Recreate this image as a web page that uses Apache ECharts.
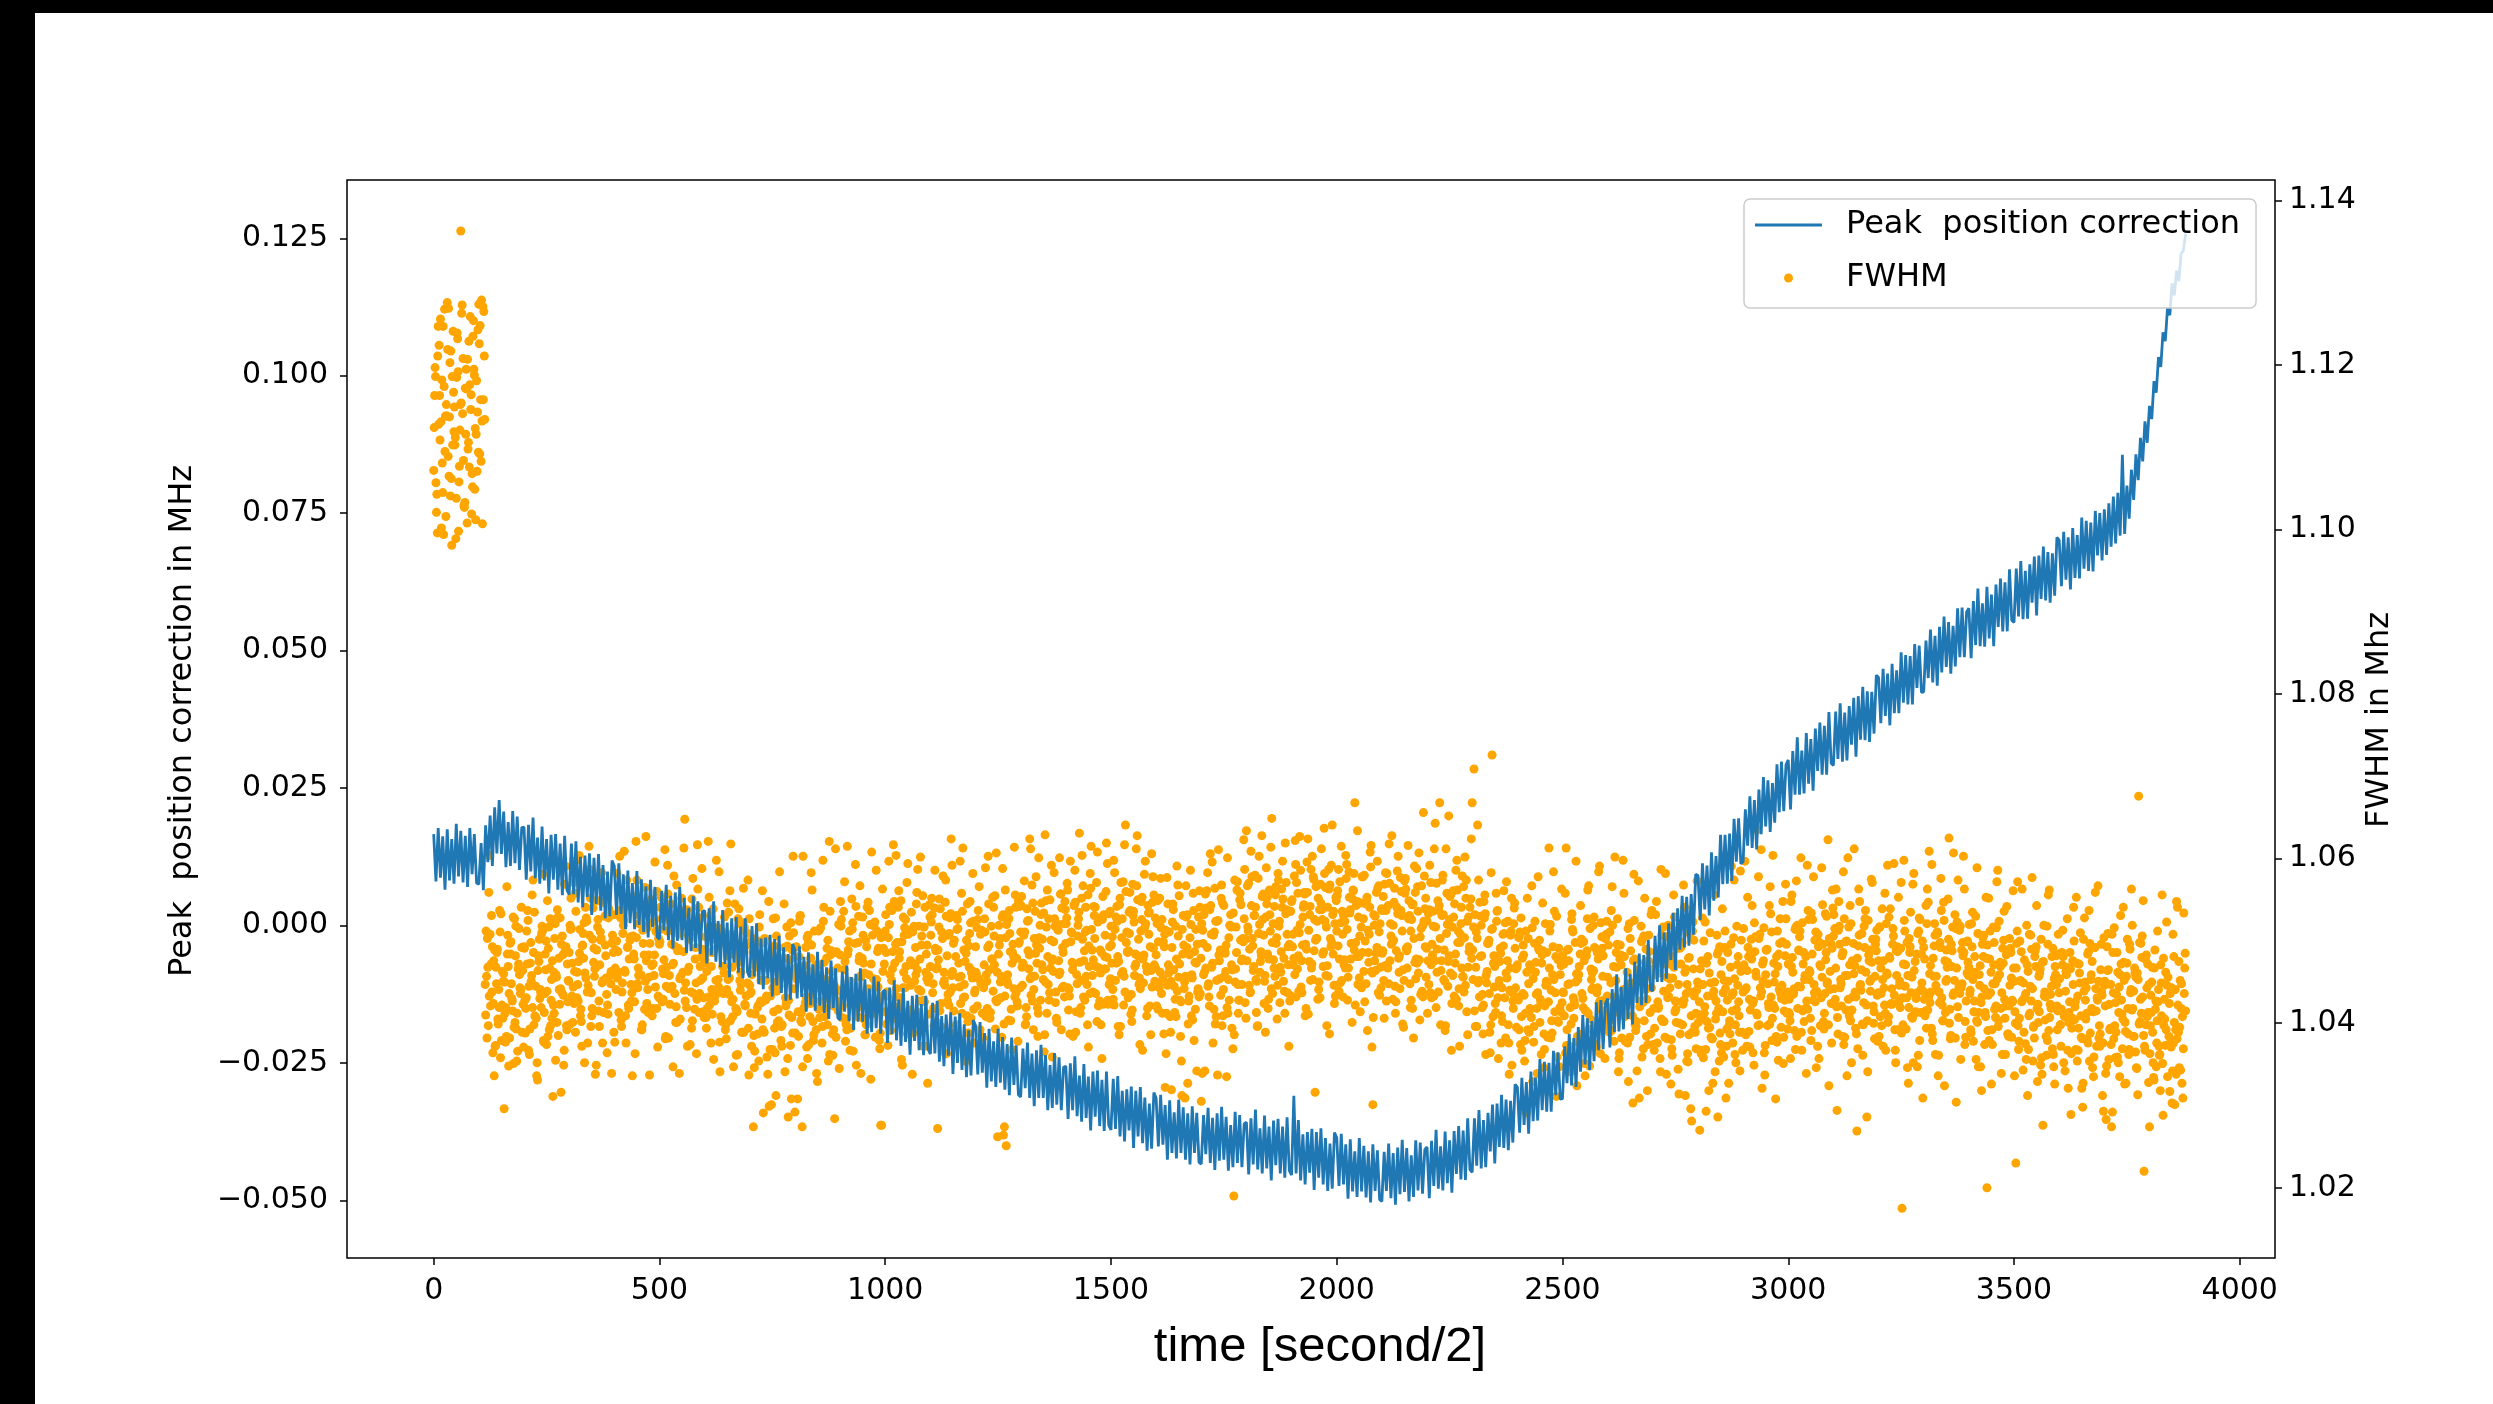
<!DOCTYPE html>
<html>
<head>
<meta charset="utf-8">
<script src="https://cdn.jsdelivr.net/npm/echarts@6/dist/echarts.min.js"></script>
<style>
  html, body { margin: 0; padding: 0; background: #ffffff; }
  #chart { width: 2493px; height: 1404px; }
</style>
</head>
<body>
<div id="chart"></div>
<script>
// Peak position correction (MHz), one value every 5 time steps starting at t = 0
const PEAK_T0 = 0;
const PEAK_DT = 5;
const peakCorrection = [
  0.0166, 0.0080, 0.0177, 0.0087, 0.0162, 0.0065, 0.0175, 0.0082, 0.0157, 0.0076, 0.0185, 0.0089, 0.0172, 0.0078, 0.0163, 0.0070, 0.0177, 0.0093, 0.0166, 0.0077,
  0.0075, 0.0150, 0.0064, 0.0182, 0.0115, 0.0200, 0.0108, 0.0215, 0.0131, 0.0228, 0.0130, 0.0207, 0.0106, 0.0188, 0.0108, 0.0208, 0.0113, 0.0198, 0.0101, 0.0178,
  0.0179, 0.0083, 0.0183, 0.0098, 0.0196, 0.0086, 0.0160, 0.0076, 0.0180, 0.0082, 0.0157, 0.0058, 0.0165, 0.0083, 0.0166, 0.0065, 0.0149, 0.0055, 0.0163, 0.0065,
  0.0056, 0.0149, 0.0057, 0.0153, 0.0042, 0.0125, 0.0033, 0.0127, 0.0052, 0.0131, 0.0019, 0.0123, 0.0039, 0.0130, 0.0027, 0.0110, 0.0013, 0.0098, 0.0017, 0.0118,
  0.0108, 0.0019, 0.0113, 0.0021, 0.0093, -0.0007, 0.0100, 0.0004, 0.0077, -0.0007, 0.0099, 0.0001, 0.0084, -0.0012, 0.0071, -0.0022, 0.0083, -0.0003, 0.0070, -0.0021,
  -0.0025, 0.0063, -0.0009, 0.0074, -0.0027, 0.0054, -0.0042, 0.0060, -0.0028, 0.0070, -0.0027, 0.0050, -0.0050, 0.0032, -0.0047, 0.0053, -0.0041, 0.0044, -0.0052, 0.0025,
  0.0027, -0.0069, 0.0031, -0.0054, 0.0044, -0.0066, 0.0008, -0.0076, 0.0028, -0.0070, 0.0005, -0.0094, 0.0013, -0.0068, 0.0015, -0.0086, -0.0002, -0.0096, 0.0013, -0.0085,
  -0.0094, -0.0001, -0.0093, 0.0004, -0.0107, -0.0024, -0.0116, -0.0022, -0.0096, -0.0017, -0.0129, -0.0025, -0.0109, -0.0019, -0.0123, -0.0040, -0.0137, -0.0052, -0.0135, -0.0034,
  -0.0044, -0.0133, -0.0038, -0.0130, -0.0057, -0.0157, -0.0049, -0.0145, -0.0071, -0.0155, -0.0048, -0.0146, -0.0063, -0.0159, -0.0076, -0.0170, -0.0064, -0.0150, -0.0078, -0.0168,
  -0.0172, -0.0084, -0.0157, -0.0073, -0.0174, -0.0094, -0.0190, -0.0088, -0.0175, -0.0078, -0.0175, -0.0098, -0.0197, -0.0115, -0.0194, -0.0093, -0.0187, -0.0102, -0.0197, -0.0120,
  -0.0118, -0.0214, -0.0113, -0.0198, -0.0100, -0.0209, -0.0135, -0.0219, -0.0114, -0.0212, -0.0137, -0.0235, -0.0128, -0.0210, -0.0126, -0.0227, -0.0143, -0.0236, -0.0128, -0.0225,
  -0.0234, -0.0141, -0.0233, -0.0137, -0.0248, -0.0165, -0.0256, -0.0162, -0.0237, -0.0158, -0.0270, -0.0166, -0.0250, -0.0160, -0.0263, -0.0180, -0.0276, -0.0191, -0.0273, -0.0172,
  -0.0182, -0.0271, -0.0176, -0.0268, -0.0196, -0.0295, -0.0188, -0.0284, -0.0211, -0.0294, -0.0188, -0.0286, -0.0203, -0.0299, -0.0216, -0.0309, -0.0204, -0.0290, -0.0218, -0.0308,
  -0.0312, -0.0224, -0.0296, -0.0213, -0.0314, -0.0233, -0.0329, -0.0227, -0.0314, -0.0217, -0.0314, -0.0236, -0.0336, -0.0254, -0.0332, -0.0232, -0.0326, -0.0240, -0.0336, -0.0258,
  -0.0256, -0.0352, -0.0251, -0.0336, -0.0238, -0.0347, -0.0273, -0.0357, -0.0252, -0.0350, -0.0275, -0.0373, -0.0266, -0.0348, -0.0264, -0.0365, -0.0281, -0.0374, -0.0266, -0.0363,
  -0.0372, -0.0279, -0.0370, -0.0274, -0.0384, -0.0301, -0.0393, -0.0298, -0.0373, -0.0293, -0.0405, -0.0301, -0.0384, -0.0294, -0.0396, -0.0313, -0.0410, -0.0324, -0.0406, -0.0304,
  -0.0314, -0.0402, -0.0308, -0.0399, -0.0327, -0.0426, -0.0318, -0.0414, -0.0340, -0.0424, -0.0317, -0.0414, -0.0331, -0.0426, -0.0342, -0.0435, -0.0329, -0.0414, -0.0341, -0.0431,
  -0.0434, -0.0345, -0.0416, -0.0332, -0.0432, -0.0350, -0.0445, -0.0342, -0.0428, -0.0330, -0.0426, -0.0348, -0.0446, -0.0363, -0.0440, -0.0339, -0.0432, -0.0345, -0.0440, -0.0361,
  -0.0358, -0.0453, -0.0351, -0.0435, -0.0335, -0.0444, -0.0369, -0.0451, -0.0346, -0.0442, -0.0366, -0.0464, -0.0355, -0.0436, -0.0352, -0.0451, -0.0366, -0.0459, -0.0349, -0.0446,
  -0.0454, -0.0310, -0.0451, -0.0354, -0.0464, -0.0380, -0.0471, -0.0376, -0.0450, -0.0370, -0.0481, -0.0376, -0.0459, -0.0369, -0.0471, -0.0387, -0.0483, -0.0397, -0.0479, -0.0377,
  -0.0386, -0.0474, -0.0379, -0.0471, -0.0398, -0.0497, -0.0389, -0.0484, -0.0411, -0.0494, -0.0387, -0.0484, -0.0401, -0.0495, -0.0411, -0.0504, -0.0398, -0.0483, -0.0409, -0.0499,
  -0.0502, -0.0412, -0.0483, -0.0397, -0.0496, -0.0414, -0.0508, -0.0404, -0.0489, -0.0390, -0.0485, -0.0405, -0.0502, -0.0418, -0.0494, -0.0391, -0.0482, -0.0395, -0.0488, -0.0408,
  -0.0403, -0.0496, -0.0392, -0.0474, -0.0372, -0.0479, -0.0402, -0.0482, -0.0375, -0.0469, -0.0391, -0.0486, -0.0374, -0.0452, -0.0365, -0.0462, -0.0373, -0.0463, -0.0351, -0.0444,
  -0.0449, -0.0351, -0.0437, -0.0336, -0.0442, -0.0354, -0.0440, -0.0341, -0.0411, -0.0326, -0.0433, -0.0324, -0.0403, -0.0308, -0.0405, -0.0317, -0.0409, -0.0319, -0.0395, -0.0289,
  -0.0294, -0.0377, -0.0277, -0.0363, -0.0285, -0.0379, -0.0266, -0.0356, -0.0277, -0.0355, -0.0243, -0.0336, -0.0248, -0.0339, -0.0250, -0.0339, -0.0228, -0.0309, -0.0231, -0.0316,
  -0.0315, -0.0220, -0.0287, -0.0197, -0.0291, -0.0205, -0.0294, -0.0185, -0.0266, -0.0163, -0.0253, -0.0169, -0.0263, -0.0174, -0.0247, -0.0140, -0.0227, -0.0136, -0.0225, -0.0142,
  -0.0133, -0.0222, -0.0116, -0.0194, -0.0089, -0.0193, -0.0112, -0.0189, -0.0078, -0.0170, -0.0088, -0.0180, -0.0066, -0.0141, -0.0051, -0.0145, -0.0054, -0.0141, -0.0026, -0.0117,
  -0.0119, -0.0019, -0.0103, 0.0000, -0.0103, -0.0013, -0.0097, 0.0004, -0.0063, 0.0023, -0.0081, 0.0031, -0.0044, 0.0054, -0.0040, 0.0052, -0.0037, 0.0057, -0.0017, 0.0093,
  0.0091, 0.0010, 0.0113, 0.0029, 0.0109, 0.0018, 0.0133, 0.0045, 0.0126, 0.0051, 0.0165, 0.0075, 0.0165, 0.0076, 0.0167, 0.0081, 0.0194, 0.0116, 0.0195, 0.0112,
  0.0116, 0.0211, 0.0145, 0.0235, 0.0141, 0.0228, 0.0138, 0.0247, 0.0166, 0.0270, 0.0180, 0.0264, 0.0170, 0.0259, 0.0187, 0.0293, 0.0206, 0.0298, 0.0208, 0.0292,
  0.0301, 0.0211, 0.0317, 0.0238, 0.0342, 0.0238, 0.0318, 0.0240, 0.0350, 0.0258, 0.0339, 0.0245, 0.0358, 0.0281, 0.0369, 0.0274, 0.0363, 0.0274, 0.0388, 0.0295,
  0.0291, 0.0389, 0.0303, 0.0404, 0.0298, 0.0387, 0.0300, 0.0399, 0.0329, 0.0414, 0.0307, 0.0417, 0.0338, 0.0434, 0.0337, 0.0426, 0.0334, 0.0425, 0.0349, 0.0455,
  0.0451, 0.0368, 0.0467, 0.0381, 0.0458, 0.0364, 0.0476, 0.0386, 0.0464, 0.0386, 0.0497, 0.0405, 0.0492, 0.0402, 0.0490, 0.0402, 0.0512, 0.0432, 0.0509, 0.0424,
  0.0425, 0.0518, 0.0450, 0.0538, 0.0442, 0.0527, 0.0436, 0.0543, 0.0460, 0.0562, 0.0470, 0.0552, 0.0458, 0.0545, 0.0471, 0.0577, 0.0488, 0.0578, 0.0488, 0.0570,
  0.0577, 0.0486, 0.0590, 0.0510, 0.0613, 0.0508, 0.0586, 0.0507, 0.0616, 0.0522, 0.0602, 0.0508, 0.0620, 0.0543, 0.0631, 0.0535, 0.0624, 0.0535, 0.0648, 0.0555,
  0.0551, 0.0649, 0.0562, 0.0663, 0.0557, 0.0645, 0.0558, 0.0657, 0.0587, 0.0671, 0.0564, 0.0673, 0.0594, 0.0689, 0.0591, 0.0679, 0.0587, 0.0677, 0.0600, 0.0706,
  0.0701, 0.0617, 0.0716, 0.0629, 0.0706, 0.0611, 0.0723, 0.0632, 0.0710, 0.0631, 0.0742, 0.0649, 0.0736, 0.0645, 0.0733, 0.0644, 0.0754, 0.0673, 0.0750, 0.0664,
  0.0757, 0.0674, 0.0768, 0.0689, 0.0780, 0.0695, 0.0787, 0.0709, 0.0856, 0.0712, 0.0800, 0.0740, 0.0829, 0.0774, 0.0857, 0.0810, 0.0887, 0.0844, 0.0917, 0.0878,
  0.0945, 0.0921, 0.0990, 0.0969, 0.1034, 0.1016, 0.1079, 0.1063, 0.1124, 0.1110, 0.1168, 0.1146, 0.1191, 0.1172, 0.1222, 0.1227, 0.1258
];

// Full width at half maximum (MHz): four interleaved sample sets, each one value every 4 time steps,
// starting at t = 0 (A), t = 2 (B), t = 1 (C) and t = 3 (D)
const FWHM_DT = 4;
const FWHM_A_T0 = 0;
const fwhmA = [
  1.1072, 1.1186, 1.0996, 1.1224, 1.1131, 1.1045, 1.1268, 1.1152, 1.1089, 1.1203, 1.0981, 1.1167, 1.1112, 1.1239, 1.1058, 1.1363, 1.1141, 1.1027, 1.1195, 1.1098, 1.1176, 1.1019, 1.1254, 1.1123, 1.1071,
  1.1274, 1.1158, 1.1007, 1.1211, 1.0512, 1.0468, 1.0604, 1.0531, 1.0424, 1.0372, 1.0486, 1.0441, 1.0358, 1.0463, 1.0296, 1.0419, 1.0507, 1.0382, 1.0448, 1.0529, 1.0401, 1.0354, 1.0472, 1.0436, 1.0389,
  1.0493, 1.0418, 1.0537, 1.0362, 1.0451, 1.0574, 1.0409, 1.0336, 1.0482, 1.0441, 1.0518, 1.0377, 1.0465, 1.0549, 1.0392, 1.0428, 1.0311, 1.0503, 1.0456, 1.0385, 1.0528, 1.0437, 1.0349, 1.0591, 1.0472,
  1.0486, 1.0552, 1.0401, 1.0463, 1.0598, 1.0427, 1.0514, 1.0372, 1.0479, 1.0541, 1.0438, 1.0615, 1.0396, 1.0502, 1.0457, 1.0349, 1.0526, 1.0471, 1.0583, 1.0413, 1.0495, 1.0364, 1.0539, 1.0448, 1.0507,
  1.0532, 1.0441, 1.0487, 1.0603, 1.0396, 1.0519, 1.0462, 1.0574, 1.0418, 1.0505, 1.0336, 1.0478, 1.0621, 1.0443, 1.0531, 1.0392, 1.0497, 1.0565, 1.0424, 1.0483, 1.0547, 1.0409, 1.0458, 1.0512, 1.0371,
  1.0496, 1.0553, 1.0429, 1.0611, 1.0468, 1.0382, 1.0524, 1.0445, 1.0579, 1.0401, 1.0488, 1.0339, 1.0536, 1.0462, 1.0648, 1.0419, 1.0507, 1.0374, 1.0551, 1.0436, 1.0492, 1.0617, 1.0413, 1.0528, 1.0455,
  1.0473, 1.0394, 1.0621, 1.0518, 1.0441, 1.0356, 1.0502, 1.0437, 1.0584, 1.0408, 1.0469, 1.0529, 1.0381, 1.0453, 1.0561, 1.0426, 1.0347, 1.0498, 1.0414, 1.0539, 1.0462, 1.0389, 1.0517, 1.0433, 1.0574,
  1.0446, 1.0372, 1.0274, 1.0411, 1.0498, 1.0354, 1.0427, 1.0561, 1.0389, 1.0452, 1.0338, 1.0481, 1.0301, 1.0527, 1.0364, 1.0439, 1.0403, 1.0473, 1.0398, 1.0545, 1.0421, 1.0357, 1.0506, 1.0308, 1.0603,
  1.0292, 1.0468, 1.0384, 1.0531, 1.0274, 1.0419, 1.0492, 1.0357, 1.0446, 1.0583, 1.0402, 1.0466, 1.0339, 1.0512, 1.0427, 1.0376, 1.0541, 1.0453, 1.0398, 1.0621, 1.0434, 1.0361, 1.0284, 1.0487, 1.0415,
  1.0483, 1.0407, 1.0536, 1.0378, 1.0615, 1.0451, 1.0394, 1.0522, 1.0436, 1.0349, 1.0498, 1.0567, 1.0421, 1.0473, 1.0386, 1.0541, 1.0459, 1.0332, 1.0507, 1.0428, 1.0586, 1.0444, 1.0369, 1.0276, 1.0491,
  1.0512, 1.0438, 1.0597, 1.0391, 1.0466, 1.0548, 1.0604, 1.0419, 1.0487, 1.0356, 1.0529, 1.0443, 1.0571, 1.0402, 1.0476, 1.0338, 1.0518, 1.0459, 1.0587, 1.0427, 1.0495, 1.0372, 1.0541, 1.0454, 1.0411,
  1.0469, 1.0532, 1.0397, 1.0488, 1.0272, 1.0551, 1.0424, 1.0579, 1.0446, 1.0363, 1.0507, 1.0438, 1.0592, 1.0415, 1.0481, 1.0526, 1.0379, 1.0457, 1.0613, 1.0432, 1.0501, 1.0388, 1.0548, 1.0464, 1.0417,
  1.0493, 1.0421, 1.0566, 1.0448, 1.0382, 1.0527, 1.0459, 1.0603, 1.0406, 1.0478, 1.0541, 1.0393, 1.0462, 1.0519, 1.0431, 1.0588, 1.0274, 1.0251, 1.0447, 1.0509, 1.0368, 1.0482, 1.0556, 1.0426, 1.0497,
  1.0511, 1.0446, 1.0573, 1.0419, 1.0488, 1.0624, 1.0457, 1.0392, 1.0536, 1.0473, 1.0601, 1.0428, 1.0502, 1.0365, 1.0549, 1.0481, 1.0437, 1.0592, 1.0463, 1.0518, 1.0401, 1.0476, 1.0557, 1.0443, 1.0521,
  1.0497, 1.0562, 1.0433, 1.0511, 1.0384, 1.0586, 1.0459, 1.0527, 1.0412, 1.0604, 1.0476, 1.0541, 1.0398, 1.0469, 1.0615, 1.0438, 1.0503, 1.0571, 1.0421, 1.0489, 1.0357, 1.0532, 1.0466, 1.0594, 1.0447,
  1.0518, 1.0441, 1.0583, 1.0473, 1.0396, 1.0552, 1.0504, 1.0422, 1.0641, 1.0487, 1.0535, 1.0411, 1.0569, 1.0458, 1.0612, 1.0482, 1.0374, 1.0526, 1.0449, 1.0597, 1.0463, 1.0508, 1.0386, 1.0547, 1.0471,
  1.0483, 1.0417, 1.0552, 1.0436, 1.0499, 1.0322, 1.0577, 1.0461, 1.0389, 1.0523, 1.0445, 1.0408, 1.0568, 1.0472, 1.0354, 1.0531, 1.0309, 1.0492, 1.0427, 1.0586, 1.0455, 1.0379, 1.0514, 1.0438, 1.0561,
  1.0305, 1.0497, 1.0342, 1.0561, 1.0448, 1.0606, 1.0596, 1.0417, 1.0524, 1.0337, 1.0476, 1.0552, 1.0409, 1.0488, 1.0335, 1.0453, 1.0519, 1.0394, 1.0190, 1.0466, 1.0572, 1.0428, 1.0544, 1.0503, 1.0587,
  1.0634, 1.0512, 1.0437, 1.0578, 1.0469, 1.0541, 1.0396, 1.0603, 1.0487, 1.0526, 1.0451, 1.0589, 1.0418, 1.0532, 1.0649, 1.0477, 1.0556, 1.0405, 1.0518, 1.0462, 1.0597, 1.0439, 1.0571, 1.0493, 1.0427,
  1.0548, 1.0471, 1.0622, 1.0513, 1.0439, 1.0586, 1.0495, 1.0559, 1.0418, 1.0624, 1.0532, 1.0467, 1.0578, 1.0316, 1.0503, 1.0441, 1.0569, 1.0526, 1.0637, 1.0458, 1.0541, 1.0387, 1.0592, 1.0484, 1.0521,
  1.0512, 1.0587, 1.0449, 1.0536, 1.0471, 1.0604, 1.0428, 1.0553, 1.0497, 1.0562, 1.0668, 1.0481, 1.0529, 1.0414, 1.0578, 1.0463, 1.0545, 1.0391, 1.0508, 1.0616, 1.0301, 1.0476, 1.0559, 1.0437, 1.0521,
  1.0537, 1.0452, 1.0583, 1.0471, 1.0618, 1.0506, 1.0429, 1.0564, 1.0488, 1.0603, 1.0442, 1.0531, 1.0395, 1.0576, 1.0467, 1.0549, 1.0512, 1.0418, 1.0591, 1.0478, 1.0536, 1.0404, 1.0567, 1.0656, 1.0493,
  1.0524, 1.0447, 1.0571, 1.0483, 1.0612, 1.0419, 1.0549, 1.0668, 1.0476, 1.0532, 1.0391, 1.0558, 1.0652, 1.0461, 1.0517, 1.0433, 1.0586, 1.0498, 1.0372, 1.0541, 1.0456, 1.0602, 1.0414, 1.0529, 1.0487,
  1.0668, 1.0709, 1.0468, 1.0641, 1.0432, 1.0519, 1.0387, 1.0556, 1.0449, 1.0497, 1.0364, 1.0726, 1.0482, 1.0413, 1.0537, 1.0452, 1.0376, 1.0508, 1.0431, 1.0572, 1.0398, 1.0467, 1.0349, 1.0521, 1.0443,
  1.0471, 1.0392, 1.0528, 1.0436, 1.0354, 1.0291, 1.0503, 1.0418, 1.0567, 1.0377, 1.0462, 1.0339, 1.0489, 1.0425, 1.0546, 1.0368, 1.0451, 1.0317, 1.0512, 1.0403, 1.0584, 1.0437, 1.0359, 1.0491, 1.0414,
  1.0482, 1.0409, 1.0613, 1.0447, 1.0372, 1.0526, 1.0431, 1.0498, 1.0324, 1.0459, 1.0543, 1.0387, 1.0476, 1.0415, 1.0562, 1.0348, 1.0453, 1.0519, 1.0396, 1.0437, 1.0584, 1.0363, 1.0491, 1.0428, 1.0505,
  1.0456, 1.0389, 1.0537, 1.0421, 1.0602, 1.0468, 1.0341, 1.0495, 1.0412, 1.0558, 1.0437, 1.0376, 1.0521, 1.0449, 1.0303, 1.0478, 1.0402, 1.0573, 1.0426, 1.0359, 1.0506, 1.0441, 1.0318, 1.0487, 1.0532,
  1.0463, 1.0394, 1.0548, 1.0418, 1.0357, 1.0507, 1.0439, 1.0582, 1.0381, 1.0472, 1.0326, 1.0455, 1.0529, 1.0401, 1.0344, 1.0491, 1.0426, 1.0568, 1.0312, 1.0447, 1.0386, 1.0296, 1.0512, 1.0433, 1.0369,
  1.0411, 1.0270, 1.0476, 1.0358, 1.0523, 1.0402, 1.0318, 1.0449, 1.0381, 1.0556, 1.0427, 1.0286, 1.0493, 1.0364, 1.0437, 1.0512, 1.0393, 1.0327, 1.0468, 1.0415, 1.0574, 1.0352, 1.0446, 1.0389, 1.0501,
  1.0438, 1.0597, 1.0372, 1.0481, 1.0416, 1.0543, 1.0349, 1.0462, 1.0635, 1.0398, 1.0611, 1.0451, 1.0337, 1.0489, 1.0424, 1.0566, 1.0379, 1.0473, 1.0308, 1.0512, 1.0441, 1.0395, 1.0548, 1.0428, 1.0496,
  1.0472, 1.0403, 1.0556, 1.0437, 1.0368, 1.0519, 1.0488, 1.0601, 1.0415, 1.0453, 1.0339, 1.0537, 1.0462, 1.0391, 1.0578, 1.0426, 1.0501, 1.0357, 1.0469, 1.0544, 1.0412, 1.0486, 1.0623, 1.0441, 1.0376,
  1.0506, 1.0429, 1.0294, 1.0548, 1.0453, 1.0384, 1.0527, 1.0416, 1.0601, 1.0471, 1.0352, 1.0497, 1.0438, 1.0269, 1.0563, 1.0447, 1.0399, 1.0518, 1.0462, 1.0341, 1.0489, 1.0575, 1.0421, 1.0457, 1.0513,
  1.0476, 1.0408, 1.0539, 1.0443, 1.0367, 1.0592, 1.0481, 1.0424, 1.0515, 1.0392, 1.0458, 1.0553, 1.0419, 1.0175, 1.0598, 1.0471, 1.0346, 1.0503, 1.0437, 1.0569, 1.0412, 1.0484, 1.0361, 1.0526, 1.0449,
  1.0492, 1.0415, 1.0563, 1.0609, 1.0438, 1.0379, 1.0521, 1.0457, 1.0336, 1.0498, 1.0431, 1.0547, 1.0413, 1.0468, 1.0625, 1.0385, 1.0517, 1.0452, 1.0304, 1.0574, 1.0436, 1.0489, 1.0603, 1.0402, 1.0461,
  1.0468, 1.0392, 1.0535, 1.0427, 1.0356, 1.0509, 1.0446, 1.0318, 1.0481, 1.0413, 1.0200, 1.0552, 1.0437, 1.0374, 1.0498, 1.0421, 1.0586, 1.0459, 1.0339, 1.0473, 1.0406, 1.0542, 1.0384, 1.0491, 1.0428,
  1.0451, 1.0230, 1.0572, 1.0406, 1.0487, 1.0343, 1.0432, 1.0519, 1.0368, 1.0445, 1.0577, 1.0397, 1.0469, 1.0329, 1.0414, 1.0502, 1.0276, 1.0438, 1.0361, 1.0556, 1.0423, 1.0481, 1.0347, 1.0459, 1.0392,
  1.0437, 1.0372, 1.0513, 1.0408, 1.0459, 1.0321, 1.0486, 1.0394, 1.0541, 1.0426, 1.0354, 1.0472, 1.0409, 1.0298, 1.0528, 1.0443, 1.0376, 1.0497, 1.0418, 1.0335, 1.0559, 1.0431, 1.0382, 1.0465, 1.0312,
  1.0446, 1.0283, 1.0509, 1.0392, 1.0274, 1.0437, 1.0358, 1.0486, 1.0413, 1.0531, 1.0369, 1.0452, 1.0327, 1.0418, 1.0496, 1.0563, 1.0384, 1.0461, 1.0345, 1.0676, 1.0429, 1.0506, 1.0220, 1.0398, 1.0472,
  1.0274, 1.0413, 1.0352, 1.0489, 1.0376, 1.0441, 1.0318, 1.0556, 1.0397, 1.0462, 1.0335, 1.0424, 1.0371, 1.0508, 1.0301, 1.0548, 1.0389, 1.0452, 1.0327, 1.0534, 1.0415
];
const FWHM_B_T0 = 2;
const fwhmB = [
  1.1163, 1.1021, 1.1247, 1.1109, 1.1182, 1.0994, 1.1138, 1.1276, 1.1065, 1.1217, 1.1103, 1.1149, 1.1038, 1.1192, 1.1121, 1.1263, 1.1084, 1.1172, 1.1008, 1.1229, 1.1146, 1.1052, 1.1188, 1.1116, 1.1243,
  1.1092, 1.1279, 1.1158, 1.0447, 1.0382, 1.0559, 1.0421, 1.0493, 1.0336, 1.0468, 1.0405, 1.0537, 1.0379, 1.0451, 1.0412, 1.0566, 1.0348, 1.0484, 1.0427, 1.0395, 1.0518, 1.0366, 1.0459, 1.0541, 1.0423,
  1.0428, 1.0512, 1.0367, 1.0473, 1.0556, 1.0398, 1.0445, 1.0331, 1.0502, 1.0419, 1.0581, 1.0436, 1.0374, 1.0491, 1.0527, 1.0406, 1.0462, 1.0355, 1.0538, 1.0441, 1.0316, 1.0483, 1.0569, 1.0397, 1.0452,
  1.0519, 1.0433, 1.0571, 1.0389, 1.0462, 1.0604, 1.0417, 1.0495, 1.0352, 1.0528, 1.0446, 1.0587, 1.0409, 1.0474, 1.0338, 1.0549, 1.0427, 1.0501, 1.0376, 1.0563, 1.0455, 1.0411, 1.0532, 1.0339, 1.0486,
  1.0467, 1.0582, 1.0413, 1.0528, 1.0449, 1.0609, 1.0376, 1.0493, 1.0551, 1.0427, 1.0506, 1.0363, 1.0574, 1.0458, 1.0521, 1.0398, 1.0483, 1.0627, 1.0441, 1.0337, 1.0539, 1.0472, 1.0596, 1.0418, 1.0503,
  1.0541, 1.0426, 1.0477, 1.0384, 1.0592, 1.0458, 1.0513, 1.0347, 1.0436, 1.0568, 1.0491, 1.0405, 1.0532, 1.0613, 1.0449, 1.0372, 1.0504, 1.0438, 1.0576, 1.0417, 1.0363, 1.0522, 1.0469, 1.0588, 1.0431,
  1.0505, 1.0418, 1.0553, 1.0376, 1.0486, 1.0427, 1.0598, 1.0453, 1.0341, 1.0512, 1.0469, 1.0392, 1.0546, 1.0435, 1.0618, 1.0408, 1.0483, 1.0361, 1.0527, 1.0452, 1.0389, 1.0564, 1.0421, 1.0497, 1.0337,
  1.0412, 1.0503, 1.0346, 1.0468, 1.0387, 1.0532, 1.0425, 1.0291, 1.0476, 1.0359, 1.0548, 1.0433, 1.0368, 1.0494, 1.0312, 1.0451, 1.0584, 1.0396, 1.0462, 1.0341, 1.0517, 1.0428, 1.0373, 1.0489, 1.0442,
  1.0457, 1.0308, 1.0524, 1.0412, 1.0603, 1.0446, 1.0371, 1.0498, 1.0424, 1.0562, 1.0386, 1.0471, 1.0329, 1.0513, 1.0441, 1.0598, 1.0408, 1.0479, 1.0354, 1.0536, 1.0463, 1.0392, 1.0612, 1.0427, 1.0345,
  1.0518, 1.0436, 1.0572, 1.0405, 1.0489, 1.0367, 1.0551, 1.0447, 1.0593, 1.0418, 1.0476, 1.0339, 1.0529, 1.0461, 1.0398, 1.0547, 1.0431, 1.0608, 1.0454, 1.0383, 1.0512, 1.0428, 1.0276, 1.0563, 1.0472,
  1.0486, 1.0373, 1.0541, 1.0452, 1.0617, 1.0409, 1.0498, 1.0561, 1.0431, 1.0349, 1.0507, 1.0469, 1.0594, 1.0416, 1.0535, 1.0388, 1.0472, 1.0559, 1.0441, 1.0602, 1.0395, 1.0517, 1.0462, 1.0327, 1.0544,
  1.0523, 1.0448, 1.0586, 1.0401, 1.0477, 1.0539, 1.0366, 1.0462, 1.0574, 1.0427, 1.0509, 1.0624, 1.0443, 1.0381, 1.0531, 1.0456, 1.0597, 1.0412, 1.0489, 1.0354, 1.0545, 1.0468, 1.0406, 1.0582, 1.0437,
  1.0459, 1.0537, 1.0392, 1.0511, 1.0443, 1.0589, 1.0418, 1.0495, 1.0362, 1.0553, 1.0471, 1.0607, 1.0429, 1.0503, 1.0383, 1.0264, 1.0562, 1.0451, 1.0527, 1.0403, 1.0486, 1.0614, 1.0437, 1.0378, 1.0542,
  1.0554, 1.0471, 1.0398, 1.0539, 1.0466, 1.0612, 1.0427, 1.0503, 1.0578, 1.0384, 1.0491, 1.0546, 1.0453, 1.0629, 1.0412, 1.0527, 1.0467, 1.0359, 1.0583, 1.0438, 1.0514, 1.0601, 1.0392, 1.0486, 1.0548,
  1.0528, 1.0416, 1.0597, 1.0474, 1.0543, 1.0389, 1.0506, 1.0631, 1.0452, 1.0567, 1.0428, 1.0513, 1.0371, 1.0582, 1.0489, 1.0542, 1.0436, 1.0608, 1.0467, 1.0398, 1.0554, 1.0481, 1.0619, 1.0423, 1.0536,
  1.0473, 1.0598, 1.0452, 1.0524, 1.0386, 1.0571, 1.0463, 1.0617, 1.0498, 1.0431, 1.0559, 1.0402, 1.0536, 1.0484, 1.0628, 1.0447, 1.0512, 1.0367, 1.0581, 1.0469, 1.0543, 1.0421, 1.0606, 1.0491, 1.0528,
  1.0521, 1.0448, 1.0576, 1.0412, 1.0493, 1.0363, 1.0545, 1.0467, 1.0319, 1.0538, 1.0429, 1.0591, 1.0456, 1.0384, 1.0514, 1.0442, 1.0567, 1.0327, 1.0483, 1.0409, 1.0558, 1.0474, 1.0342, 1.0529, 1.0436,
  1.0339, 1.0532, 1.0467, 1.0583, 1.0421, 1.0508, 1.0376, 1.0564, 1.0452, 1.0611, 1.0489, 1.0397, 1.0543, 1.0463, 1.0601, 1.0428, 1.0517, 1.0369, 1.0574, 1.0486, 1.0412, 1.0558, 1.0447, 1.0623, 1.0502,
  1.0567, 1.0446, 1.0609, 1.0494, 1.0531, 1.0413, 1.0576, 1.0462, 1.0628, 1.0507, 1.0389, 1.0553, 1.0478, 1.0614, 1.0436, 1.0542, 1.0497, 1.0582, 1.0425, 1.0563, 1.0451, 1.0619, 1.0508, 1.0372, 1.0536,
  1.0493, 1.0579, 1.0432, 1.0558, 1.0627, 1.0476, 1.0541, 1.0409, 1.0596, 1.0513, 1.0452, 1.0603, 1.0488, 1.0566, 1.0429, 1.0538, 1.0612, 1.0469, 1.0524, 1.0397, 1.0587, 1.0503, 1.0641, 1.0446, 1.0553,
  1.0561, 1.0478, 1.0615, 1.0432, 1.0524, 1.0593, 1.0467, 1.0538, 1.0401, 1.0582, 1.0498, 1.0634, 1.0455, 1.0517, 1.0578, 1.0426, 1.0549, 1.0486, 1.0608, 1.0371, 1.0532, 1.0464, 1.0597, 1.0511, 1.0443,
  1.0488, 1.0569, 1.0427, 1.0543, 1.0476, 1.0628, 1.0501, 1.0412, 1.0585, 1.0462, 1.0537, 1.0399, 1.0573, 1.0491, 1.0616, 1.0448, 1.0526, 1.0382, 1.0559, 1.0473, 1.0607, 1.0435, 1.0518, 1.0579, 1.0456,
  1.0476, 1.0592, 1.0431, 1.0518, 1.0643, 1.0462, 1.0537, 1.0398, 1.0574, 1.0489, 1.0612, 1.0445, 1.0526, 1.0367, 1.0561, 1.0473, 1.0598, 1.0421, 1.0508, 1.0579, 1.0438, 1.0552, 1.0386, 1.0493, 1.0624,
  1.0453, 1.0532, 1.0396, 1.0574, 1.0481, 1.0419, 1.0548, 1.0362, 1.0497, 1.0436, 1.0583, 1.0408, 1.0469, 1.0524, 1.0357, 1.0491, 1.0443, 1.0561, 1.0382, 1.0476, 1.0338, 1.0512, 1.0427, 1.0546, 1.0395,
  1.0428, 1.0511, 1.0367, 1.0483, 1.0412, 1.0552, 1.0389, 1.0466, 1.0329, 1.0497, 1.0435, 1.0578, 1.0401, 1.0473, 1.0346, 1.0521, 1.0448, 1.0613, 1.0382, 1.0459, 1.0536, 1.0311, 1.0477, 1.0419, 1.0563,
  1.0437, 1.0558, 1.0392, 1.0476, 1.0341, 1.0514, 1.0426, 1.0597, 1.0453, 1.0378, 1.0502, 1.0419, 1.0336, 1.0488, 1.0567, 1.0405, 1.0461, 1.0529, 1.0374, 1.0443, 1.0591, 1.0416, 1.0482, 1.0357, 1.0524,
  1.0495, 1.0413, 1.0566, 1.0378, 1.0452, 1.0527, 1.0364, 1.0471, 1.0598, 1.0408, 1.0436, 1.0329, 1.0503, 1.0447, 1.0581, 1.0391, 1.0462, 1.0309, 1.0518, 1.0425, 1.0552, 1.0384, 1.0476, 1.0413, 1.0537,
  1.0418, 1.0532, 1.0376, 1.0461, 1.0587, 1.0402, 1.0483, 1.0338, 1.0519, 1.0443, 1.0369, 1.0556, 1.0427, 1.0491, 1.0314, 1.0472, 1.0398, 1.0541, 1.0436, 1.0353, 1.0509, 1.0281, 1.0466, 1.0389, 1.0573,
  1.0446, 1.0367, 1.0528, 1.0412, 1.0293, 1.0481, 1.0395, 1.0562, 1.0433, 1.0341, 1.0507, 1.0418, 1.0374, 1.0539, 1.0452, 1.0309, 1.0486, 1.0403, 1.0591, 1.0437, 1.0362, 1.0518, 1.0426, 1.0585, 1.0389,
  1.0471, 1.0386, 1.0553, 1.0429, 1.0502, 1.0364, 1.0487, 1.0412, 1.0578, 1.0443, 1.0321, 1.0516, 1.0459, 1.0397, 1.0543, 1.0432, 1.0604, 1.0418, 1.0481, 1.0355, 1.0527, 1.0446, 1.0383, 1.0569, 1.0438,
  1.0429, 1.0548, 1.0462, 1.0391, 1.0573, 1.0445, 1.0512, 1.0367, 1.0486, 1.0418, 1.0592, 1.0453, 1.0379, 1.0526, 1.0437, 1.0346, 1.0508, 1.0471, 1.0589, 1.0402, 1.0533, 1.0448, 1.0324, 1.0497, 1.0562,
  1.0442, 1.0563, 1.0387, 1.0496, 1.0421, 1.0584, 1.0458, 1.0336, 1.0517, 1.0403, 1.0476, 1.0612, 1.0432, 1.0369, 1.0548, 1.0465, 1.0398, 1.0527, 1.0286, 1.0483, 1.0439, 1.0571, 1.0414, 1.0502, 1.0378,
  1.0517, 1.0436, 1.0372, 1.0558, 1.0461, 1.0408, 1.0539, 1.0423, 1.0594, 1.0352, 1.0487, 1.0446, 1.0571, 1.0398, 1.0512, 1.0431, 1.0327, 1.0493, 1.0456, 1.0582, 1.0414, 1.0347, 1.0528, 1.0441, 1.0309,
  1.0478, 1.0394, 1.0547, 1.0425, 1.0593, 1.0457, 1.0362, 1.0511, 1.0438, 1.0576, 1.0403, 1.0324, 1.0489, 1.0551, 1.0417, 1.0469, 1.0607, 1.0382, 1.0523, 1.0444, 1.0356, 1.0498, 1.0563, 1.0427, 1.0474,
  1.0436, 1.0521, 1.0378, 1.0462, 1.0589, 1.0413, 1.0347, 1.0496, 1.0442, 1.0553, 1.0391, 1.0478, 1.0326, 1.0517, 1.0448, 1.0572, 1.0403, 1.0469, 1.0362, 1.0536, 1.0421, 1.0387, 1.0503, 1.0455, 1.0561,
  1.0414, 1.0497, 1.0368, 1.0452, 1.0563, 1.0389, 1.0436, 1.0312, 1.0508, 1.0427, 1.0354, 1.0481, 1.0543, 1.0401, 1.0466, 1.0338, 1.0519, 1.0432, 1.0379, 1.0562, 1.0418, 1.0491, 1.0326, 1.0447, 1.0508,
  1.0398, 1.0486, 1.0352, 1.0439, 1.0527, 1.0413, 1.0289, 1.0476, 1.0404, 1.0553, 1.0367, 1.0449, 1.0321, 1.0502, 1.0428, 1.0381, 1.0537, 1.0453, 1.0346, 1.0492, 1.0415, 1.0567, 1.0372, 1.0438, 1.0293,
  1.0421, 1.0493, 1.0356, 1.0447, 1.0292, 1.0516, 1.0389, 1.0462, 1.0335, 1.0428, 1.0541, 1.0401, 1.0473, 1.0362, 1.0437, 1.0519, 1.0384, 1.0456, 1.0313, 1.0498, 1.0412, 1.0549, 1.0367, 1.0443, 1.0328,
  1.0397, 1.0468, 1.0331, 1.0427, 1.0512, 1.0361, 1.0449, 1.0288, 1.0405, 1.0523, 1.0374, 1.0436, 1.0303, 1.0481, 1.0392, 1.0541, 1.0346, 1.0418, 1.0309, 1.0467
];
const FWHM_C_T0 = 1;
const fwhmC = [
  1.1124, 1.1057, 1.1211, 1.1163, 1.1002, 1.1247, 1.1095, 1.1138, 1.1269, 1.1041, 1.1186, 1.1119, 1.0989, 1.1232, 1.1077, 1.1154, 1.1208, 1.1033, 1.1171, 1.1106, 1.1259, 1.1068, 1.1195, 1.1012, 1.1143,
  1.1226, 1.1083, 1.1271, 1.1134, 1.0457, 1.0397, 1.0508, 1.0438, 1.0476, 1.0373, 1.0490, 1.0419, 1.0533, 1.0406, 1.0450, 1.0384, 1.0469, 1.0497, 1.0430, 1.0351, 1.0482, 1.0412, 1.0515, 1.0441, 1.0464,
  1.0491, 1.0431, 1.0525, 1.0393, 1.0458, 1.0486, 1.0408, 1.0352, 1.0475, 1.0437, 1.0512, 1.0413, 1.0500, 1.0384, 1.0467, 1.0453, 1.0422, 1.0521, 1.0401, 1.0479, 1.0442, 1.0506, 1.0367, 1.0493, 1.0426,
  1.0398, 1.0515, 1.0444, 1.0558, 1.0431, 1.0475, 1.0409, 1.0494, 1.0522, 1.0455, 1.0376, 1.0507, 1.0437, 1.0540, 1.0466, 1.0489, 1.0415, 1.0511, 1.0449, 1.0547, 1.0482, 1.0422, 1.0533, 1.0463, 1.0501,
  1.0377, 1.0500, 1.0462, 1.0537, 1.0438, 1.0525, 1.0409, 1.0492, 1.0478, 1.0447, 1.0546, 1.0426, 1.0504, 1.0467, 1.0531, 1.0392, 1.0518, 1.0451, 1.0516, 1.0456, 1.0550, 1.0418, 1.0483, 1.0511, 1.0433,
  1.0499, 1.0527, 1.0460, 1.0381, 1.0512, 1.0442, 1.0545, 1.0471, 1.0494, 1.0420, 1.0516, 1.0454, 1.0552, 1.0487, 1.0427, 1.0538, 1.0468, 1.0506, 1.0403, 1.0520, 1.0449, 1.0563, 1.0436, 1.0480, 1.0414,
  1.0477, 1.0463, 1.0432, 1.0531, 1.0411, 1.0489, 1.0452, 1.0516, 1.0377, 1.0503, 1.0436, 1.0501, 1.0441, 1.0535, 1.0403, 1.0468, 1.0496, 1.0418, 1.0362, 1.0485, 1.0447, 1.0522, 1.0423, 1.0510, 1.0394,
  1.0436, 1.0459, 1.0385, 1.0481, 1.0419, 1.0517, 1.0452, 1.0392, 1.0503, 1.0433, 1.0471, 1.0368, 1.0485, 1.0414, 1.0528, 1.0401, 1.0445, 1.0379, 1.0464, 1.0492, 1.0425, 1.0286, 1.0477, 1.0407, 1.0510,
  1.0388, 1.0453, 1.0481, 1.0403, 1.0347, 1.0470, 1.0432, 1.0507, 1.0408, 1.0495, 1.0379, 1.0462, 1.0448, 1.0417, 1.0516, 1.0396, 1.0474, 1.0437, 1.0501, 1.0362, 1.0488, 1.0421, 1.0486, 1.0426, 1.0520,
  1.0548, 1.0421, 1.0465, 1.0399, 1.0484, 1.0512, 1.0445, 1.0366, 1.0497, 1.0427, 1.0530, 1.0456, 1.0479, 1.0405, 1.0501, 1.0439, 1.0537, 1.0472, 1.0412, 1.0523, 1.0453, 1.0491, 1.0388, 1.0505, 1.0434,
  1.0532, 1.0433, 1.0520, 1.0404, 1.0487, 1.0473, 1.0442, 1.0541, 1.0421, 1.0499, 1.0462, 1.0526, 1.0387, 1.0513, 1.0446, 1.0511, 1.0451, 1.0545, 1.0413, 1.0478, 1.0506, 1.0428, 1.0372, 1.0495, 1.0457,
  1.0507, 1.0437, 1.0540, 1.0466, 1.0489, 1.0415, 1.0511, 1.0449, 1.0547, 1.0482, 1.0422, 1.0533, 1.0463, 1.0501, 1.0398, 1.0515, 1.0444, 1.0558, 1.0431, 1.0475, 1.0409, 1.0494, 1.0522, 1.0455, 1.0376,
  1.0462, 1.0526, 1.0387, 1.0513, 1.0446, 1.0511, 1.0451, 1.0545, 1.0413, 1.0478, 1.0506, 1.0428, 1.0262, 1.0495, 1.0457, 1.0532, 1.0433, 1.0520, 1.0404, 1.0487, 1.0473, 1.0442, 1.0541, 1.0421, 1.0499,
  1.0543, 1.0473, 1.0511, 1.0408, 1.0525, 1.0454, 1.0568, 1.0441, 1.0485, 1.0419, 1.0504, 1.0532, 1.0465, 1.0386, 1.0517, 1.0447, 1.0550, 1.0476, 1.0499, 1.0425, 1.0521, 1.0459, 1.0557, 1.0492, 1.0432,
  1.0521, 1.0443, 1.0387, 1.0510, 1.0472, 1.0547, 1.0448, 1.0535, 1.0419, 1.0502, 1.0488, 1.0457, 1.0556, 1.0436, 1.0514, 1.0477, 1.0541, 1.0402, 1.0528, 1.0461, 1.0526, 1.0466, 1.0560, 1.0428, 1.0493,
  1.0495, 1.0429, 1.0514, 1.0542, 1.0475, 1.0396, 1.0527, 1.0457, 1.0560, 1.0486, 1.0509, 1.0435, 1.0531, 1.0469, 1.0567, 1.0502, 1.0442, 1.0553, 1.0483, 1.0521, 1.0418, 1.0535, 1.0464, 1.0578, 1.0451,
  1.0421, 1.0499, 1.0462, 1.0526, 1.0387, 1.0513, 1.0446, 1.0511, 1.0451, 1.0545, 1.0413, 1.0478, 1.0506, 1.0428, 1.0312, 1.0495, 1.0457, 1.0532, 1.0433, 1.0520, 1.0404, 1.0487, 1.0473, 1.0442, 1.0541,
  1.0521, 1.0459, 1.0557, 1.0492, 1.0432, 1.0543, 1.0473, 1.0511, 1.0408, 1.0525, 1.0454, 1.0568, 1.0441, 1.0485, 1.0419, 1.0504, 1.0532, 1.0465, 1.0386, 1.0517, 1.0447, 1.0550, 1.0476, 1.0499, 1.0425,
  1.0476, 1.0570, 1.0438, 1.0503, 1.0531, 1.0453, 1.0397, 1.0520, 1.0482, 1.0557, 1.0458, 1.0545, 1.0429, 1.0512, 1.0498, 1.0467, 1.0566, 1.0446, 1.0524, 1.0487, 1.0551, 1.0412, 1.0538, 1.0471, 1.0536,
  1.0550, 1.0479, 1.0593, 1.0466, 1.0510, 1.0444, 1.0529, 1.0557, 1.0490, 1.0411, 1.0542, 1.0472, 1.0575, 1.0501, 1.0524, 1.0450, 1.0546, 1.0484, 1.0582, 1.0517, 1.0457, 1.0568, 1.0498, 1.0536, 1.0433,
  1.0555, 1.0439, 1.0522, 1.0508, 1.0477, 1.0576, 1.0456, 1.0534, 1.0497, 1.0561, 1.0422, 1.0548, 1.0481, 1.0546, 1.0486, 1.0580, 1.0448, 1.0513, 1.0541, 1.0463, 1.0407, 1.0530, 1.0492, 1.0567, 1.0468,
  1.0485, 1.0406, 1.0537, 1.0467, 1.0570, 1.0496, 1.0519, 1.0445, 1.0541, 1.0479, 1.0577, 1.0512, 1.0452, 1.0563, 1.0493, 1.0531, 1.0428, 1.0545, 1.0474, 1.0588, 1.0461, 1.0505, 1.0439, 1.0524, 1.0552,
  1.0412, 1.0538, 1.0471, 1.0536, 1.0476, 1.0570, 1.0438, 1.0503, 1.0531, 1.0453, 1.0397, 1.0520, 1.0482, 1.0557, 1.0458, 1.0545, 1.0429, 1.0512, 1.0498, 1.0467, 1.0566, 1.0446, 1.0524, 1.0487, 1.0551,
  1.0489, 1.0415, 1.0511, 1.0449, 1.0547, 1.0482, 1.0422, 1.0533, 1.0463, 1.0501, 1.0398, 1.0515, 1.0444, 1.0558, 1.0431, 1.0475, 1.0409, 1.0494, 1.0522, 1.0455, 1.0376, 1.0507, 1.0437, 1.0540, 1.0466,
  1.0432, 1.0507, 1.0408, 1.0495, 1.0379, 1.0462, 1.0448, 1.0417, 1.0516, 1.0396, 1.0474, 1.0437, 1.0501, 1.0362, 1.0488, 1.0421, 1.0486, 1.0426, 1.0520, 1.0388, 1.0453, 1.0481, 1.0403, 1.0347, 1.0470,
  1.0438, 1.0476, 1.0373, 1.0490, 1.0419, 1.0533, 1.0406, 1.0450, 1.0384, 1.0469, 1.0497, 1.0430, 1.0351, 1.0482, 1.0412, 1.0515, 1.0441, 1.0464, 1.0390, 1.0486, 1.0424, 1.0522, 1.0457, 1.0397, 1.0508,
  1.0412, 1.0511, 1.0391, 1.0469, 1.0432, 1.0496, 1.0357, 1.0483, 1.0416, 1.0481, 1.0421, 1.0515, 1.0383, 1.0448, 1.0476, 1.0398, 1.0342, 1.0465, 1.0427, 1.0502, 1.0403, 1.0490, 1.0374, 1.0457, 1.0443,
  1.0374, 1.0459, 1.0487, 1.0420, 1.0341, 1.0472, 1.0402, 1.0505, 1.0431, 1.0454, 1.0380, 1.0476, 1.0414, 1.0512, 1.0447, 1.0387, 1.0498, 1.0428, 1.0466, 1.0363, 1.0480, 1.0409, 1.0523, 1.0396, 1.0440,
  1.0401, 1.0466, 1.0406, 1.0500, 1.0368, 1.0433, 1.0461, 1.0383, 1.0327, 1.0450, 1.0412, 1.0487, 1.0388, 1.0475, 1.0359, 1.0442, 1.0428, 1.0397, 1.0496, 1.0376, 1.0454, 1.0417, 1.0481, 1.0342, 1.0468,
  1.0515, 1.0441, 1.0464, 1.0390, 1.0486, 1.0424, 1.0522, 1.0457, 1.0397, 1.0508, 1.0438, 1.0476, 1.0373, 1.0490, 1.0419, 1.0533, 1.0406, 1.0450, 1.0384, 1.0469, 1.0497, 1.0430, 1.0351, 1.0482, 1.0412,
  1.0413, 1.0357, 1.0480, 1.0442, 1.0517, 1.0418, 1.0505, 1.0389, 1.0472, 1.0458, 1.0427, 1.0526, 1.0406, 1.0484, 1.0447, 1.0511, 1.0372, 1.0498, 1.0431, 1.0496, 1.0436, 1.0530, 1.0398, 1.0463, 1.0491,
  1.0532, 1.0467, 1.0407, 1.0518, 1.0448, 1.0486, 1.0383, 1.0500, 1.0429, 1.0543, 1.0416, 1.0460, 1.0394, 1.0479, 1.0507, 1.0440, 1.0361, 1.0492, 1.0422, 1.0525, 1.0451, 1.0474, 1.0400, 1.0496, 1.0434,
  1.0384, 1.0467, 1.0453, 1.0422, 1.0521, 1.0401, 1.0479, 1.0442, 1.0506, 1.0367, 1.0493, 1.0426, 1.0491, 1.0431, 1.0525, 1.0393, 1.0458, 1.0486, 1.0408, 1.0352, 1.0475, 1.0437, 1.0512, 1.0413, 1.0500,
  1.0429, 1.0543, 1.0416, 1.0460, 1.0394, 1.0479, 1.0507, 1.0440, 1.0361, 1.0492, 1.0422, 1.0525, 1.0451, 1.0474, 1.0400, 1.0496, 1.0434, 1.0532, 1.0467, 1.0407, 1.0518, 1.0448, 1.0486, 1.0383, 1.0500,
  1.0520, 1.0388, 1.0453, 1.0481, 1.0403, 1.0347, 1.0470, 1.0432, 1.0507, 1.0408, 1.0495, 1.0379, 1.0462, 1.0448, 1.0417, 1.0516, 1.0396, 1.0474, 1.0437, 1.0501, 1.0362, 1.0488, 1.0421, 1.0486, 1.0426,
  1.0336, 1.0467, 1.0397, 1.0500, 1.0426, 1.0449, 1.0375, 1.0471, 1.0409, 1.0507, 1.0442, 1.0382, 1.0493, 1.0423, 1.0461, 1.0358, 1.0475, 1.0404, 1.0518, 1.0391, 1.0435, 1.0369, 1.0454, 1.0482, 1.0415,
  1.0454, 1.0417, 1.0481, 1.0342, 1.0468, 1.0401, 1.0466, 1.0406, 1.0500, 1.0368, 1.0433, 1.0461, 1.0383, 1.0327, 1.0450, 1.0412, 1.0487, 1.0388, 1.0475, 1.0359, 1.0442, 1.0428, 1.0397, 1.0496, 1.0376,
  1.0451, 1.0348, 1.0465, 1.0394, 1.0508, 1.0381, 1.0425, 1.0359, 1.0444, 1.0472, 1.0405, 1.0326, 1.0457, 1.0387, 1.0490, 1.0416, 1.0439, 1.0365, 1.0461, 1.0399, 1.0497, 1.0432, 1.0372, 1.0483, 1.0413,
  1.0363, 1.0450, 1.0334, 1.0417, 1.0403, 1.0372, 1.0471, 1.0351, 1.0429, 1.0392, 1.0456, 1.0317, 1.0443, 1.0376, 1.0441, 1.0381, 1.0475, 1.0343, 1.0408, 1.0436
];
const FWHM_D_T0 = 3;
const fwhmD = [
  1.1197, 1.1043, 1.1128, 1.1256, 1.1081, 1.1174, 1.1016, 1.1219, 1.1137, 1.1062, 1.1241, 1.1103, 1.1185, 1.0998, 1.1152, 1.1273, 1.1029, 1.1116, 1.1207, 1.1076, 1.1164, 1.1235, 1.1049, 1.1181, 1.1094,
  1.1248, 1.1132, 1.1265, 1.0410, 1.0503, 1.0433, 1.0472, 1.0364, 1.0489, 1.0448, 1.0399, 1.0511, 1.0422, 1.0460, 1.0377, 1.0484, 1.0436, 1.0499, 1.0415, 1.0527, 1.0393, 1.0466, 1.0443, 1.0492, 1.0371,
  1.0388, 1.0472, 1.0445, 1.0498, 1.0419, 1.0535, 1.0406, 1.0464, 1.0430, 1.0509, 1.0379, 1.0484, 1.0439, 1.0517, 1.0397, 1.0476, 1.0412, 1.0459, 1.0529, 1.0423, 1.0496, 1.0434, 1.0488, 1.0392, 1.0451,
  1.0514, 1.0473, 1.0424, 1.0536, 1.0447, 1.0485, 1.0402, 1.0509, 1.0461, 1.0524, 1.0440, 1.0552, 1.0418, 1.0491, 1.0468, 1.0517, 1.0396, 1.0503, 1.0452, 1.0530, 1.0435, 1.0528, 1.0458, 1.0497, 1.0389,
  1.0489, 1.0455, 1.0534, 1.0404, 1.0509, 1.0464, 1.0542, 1.0422, 1.0501, 1.0437, 1.0484, 1.0554, 1.0448, 1.0521, 1.0459, 1.0513, 1.0417, 1.0476, 1.0413, 1.0497, 1.0470, 1.0523, 1.0444, 1.0560, 1.0431,
  1.0514, 1.0466, 1.0529, 1.0445, 1.0557, 1.0423, 1.0496, 1.0473, 1.0522, 1.0401, 1.0508, 1.0457, 1.0535, 1.0440, 1.0533, 1.0463, 1.0502, 1.0394, 1.0519, 1.0478, 1.0429, 1.0541, 1.0452, 1.0490, 1.0407,
  1.0407, 1.0486, 1.0422, 1.0469, 1.0539, 1.0433, 1.0506, 1.0444, 1.0498, 1.0402, 1.0461, 1.0398, 1.0482, 1.0455, 1.0508, 1.0429, 1.0545, 1.0416, 1.0474, 1.0440, 1.0519, 1.0389, 1.0494, 1.0449, 1.0527,
  1.0438, 1.0487, 1.0366, 1.0473, 1.0422, 1.0500, 1.0405, 1.0498, 1.0428, 1.0467, 1.0299, 1.0484, 1.0443, 1.0394, 1.0506, 1.0417, 1.0455, 1.0372, 1.0479, 1.0431, 1.0494, 1.0410, 1.0522, 1.0388, 1.0461,
  1.0493, 1.0414, 1.0530, 1.0401, 1.0459, 1.0425, 1.0504, 1.0374, 1.0479, 1.0434, 1.0512, 1.0392, 1.0471, 1.0407, 1.0454, 1.0524, 1.0418, 1.0491, 1.0429, 1.0483, 1.0387, 1.0446, 1.0383, 1.0467, 1.0440,
  1.0526, 1.0437, 1.0475, 1.0392, 1.0499, 1.0451, 1.0514, 1.0430, 1.0542, 1.0408, 1.0481, 1.0458, 1.0507, 1.0386, 1.0493, 1.0442, 1.0520, 1.0425, 1.0518, 1.0448, 1.0487, 1.0379, 1.0504, 1.0463, 1.0414,
  1.0399, 1.0504, 1.0459, 1.0537, 1.0417, 1.0496, 1.0432, 1.0479, 1.0549, 1.0443, 1.0516, 1.0454, 1.0508, 1.0412, 1.0471, 1.0408, 1.0492, 1.0465, 1.0518, 1.0439, 1.0555, 1.0426, 1.0484, 1.0450, 1.0529,
  1.0552, 1.0418, 1.0491, 1.0468, 1.0517, 1.0396, 1.0503, 1.0452, 1.0530, 1.0435, 1.0528, 1.0458, 1.0497, 1.0389, 1.0514, 1.0473, 1.0424, 1.0536, 1.0447, 1.0485, 1.0402, 1.0509, 1.0461, 1.0524, 1.0440,
  1.0516, 1.0454, 1.0508, 1.0412, 1.0471, 1.0408, 1.0492, 1.0465, 1.0518, 1.0439, 1.0555, 1.0426, 1.0484, 1.0450, 1.0529, 1.0399, 1.0504, 1.0459, 1.0537, 1.0417, 1.0496, 1.0432, 1.0479, 1.0549, 1.0443,
  1.0468, 1.0507, 1.0399, 1.0524, 1.0483, 1.0434, 1.0546, 1.0457, 1.0495, 1.0412, 1.0519, 1.0471, 1.0534, 1.0450, 1.0562, 1.0428, 1.0501, 1.0478, 1.0527, 1.0406, 1.0513, 1.0462, 1.0540, 1.0445, 1.0538,
  1.0570, 1.0441, 1.0499, 1.0465, 1.0544, 1.0414, 1.0519, 1.0474, 1.0552, 1.0432, 1.0511, 1.0447, 1.0494, 1.0564, 1.0458, 1.0531, 1.0469, 1.0523, 1.0427, 1.0486, 1.0423, 1.0507, 1.0480, 1.0533, 1.0454,
  1.0505, 1.0422, 1.0529, 1.0481, 1.0544, 1.0460, 1.0572, 1.0438, 1.0511, 1.0488, 1.0537, 1.0416, 1.0523, 1.0472, 1.0550, 1.0455, 1.0548, 1.0478, 1.0517, 1.0409, 1.0534, 1.0493, 1.0444, 1.0556, 1.0467,
  1.0549, 1.0443, 1.0516, 1.0454, 1.0508, 1.0412, 1.0471, 1.0408, 1.0492, 1.0465, 1.0518, 1.0439, 1.0555, 1.0426, 1.0484, 1.0450, 1.0529, 1.0399, 1.0504, 1.0459, 1.0537, 1.0417, 1.0496, 1.0432, 1.0479,
  1.0513, 1.0462, 1.0540, 1.0445, 1.0538, 1.0468, 1.0507, 1.0399, 1.0524, 1.0483, 1.0434, 1.0546, 1.0457, 1.0495, 1.0412, 1.0519, 1.0471, 1.0534, 1.0450, 1.0562, 1.0428, 1.0501, 1.0478, 1.0527, 1.0406,
  1.0517, 1.0490, 1.0543, 1.0464, 1.0580, 1.0451, 1.0509, 1.0475, 1.0554, 1.0424, 1.0529, 1.0484, 1.0562, 1.0442, 1.0521, 1.0457, 1.0504, 1.0574, 1.0468, 1.0541, 1.0479, 1.0533, 1.0437, 1.0496, 1.0433,
  1.0508, 1.0459, 1.0571, 1.0482, 1.0520, 1.0437, 1.0544, 1.0496, 1.0559, 1.0475, 1.0587, 1.0453, 1.0526, 1.0503, 1.0552, 1.0431, 1.0538, 1.0487, 1.0565, 1.0470, 1.0563, 1.0493, 1.0532, 1.0424, 1.0549,
  1.0494, 1.0572, 1.0452, 1.0531, 1.0467, 1.0514, 1.0584, 1.0478, 1.0551, 1.0489, 1.0543, 1.0447, 1.0506, 1.0443, 1.0527, 1.0500, 1.0553, 1.0474, 1.0590, 1.0461, 1.0519, 1.0485, 1.0564, 1.0434, 1.0539,
  1.0554, 1.0470, 1.0582, 1.0448, 1.0521, 1.0498, 1.0547, 1.0426, 1.0533, 1.0482, 1.0560, 1.0465, 1.0558, 1.0488, 1.0527, 1.0419, 1.0544, 1.0503, 1.0454, 1.0566, 1.0477, 1.0515, 1.0432, 1.0539, 1.0491,
  1.0533, 1.0437, 1.0496, 1.0433, 1.0517, 1.0490, 1.0543, 1.0464, 1.0580, 1.0451, 1.0509, 1.0475, 1.0554, 1.0424, 1.0529, 1.0484, 1.0562, 1.0442, 1.0521, 1.0457, 1.0504, 1.0574, 1.0468, 1.0541, 1.0479,
  1.0517, 1.0396, 1.0503, 1.0452, 1.0530, 1.0435, 1.0528, 1.0458, 1.0497, 1.0389, 1.0514, 1.0473, 1.0424, 1.0536, 1.0447, 1.0485, 1.0402, 1.0509, 1.0461, 1.0524, 1.0440, 1.0552, 1.0418, 1.0491, 1.0468,
  1.0504, 1.0374, 1.0479, 1.0434, 1.0512, 1.0392, 1.0471, 1.0407, 1.0454, 1.0524, 1.0418, 1.0491, 1.0429, 1.0483, 1.0387, 1.0446, 1.0383, 1.0467, 1.0440, 1.0493, 1.0414, 1.0530, 1.0401, 1.0459, 1.0425,
  1.0472, 1.0364, 1.0489, 1.0448, 1.0399, 1.0511, 1.0422, 1.0460, 1.0377, 1.0484, 1.0436, 1.0499, 1.0415, 1.0527, 1.0393, 1.0466, 1.0443, 1.0492, 1.0371, 1.0478, 1.0427, 1.0505, 1.0410, 1.0503, 1.0433,
  1.0402, 1.0449, 1.0519, 1.0413, 1.0486, 1.0424, 1.0478, 1.0382, 1.0441, 1.0378, 1.0462, 1.0435, 1.0488, 1.0409, 1.0525, 1.0396, 1.0454, 1.0420, 1.0499, 1.0369, 1.0474, 1.0429, 1.0507, 1.0387, 1.0466,
  1.0367, 1.0474, 1.0426, 1.0489, 1.0405, 1.0517, 1.0383, 1.0456, 1.0433, 1.0482, 1.0361, 1.0468, 1.0417, 1.0495, 1.0400, 1.0493, 1.0423, 1.0462, 1.0354, 1.0479, 1.0438, 1.0389, 1.0501, 1.0412, 1.0450,
  1.0426, 1.0363, 1.0447, 1.0420, 1.0473, 1.0394, 1.0510, 1.0381, 1.0439, 1.0405, 1.0484, 1.0354, 1.0459, 1.0414, 1.0492, 1.0372, 1.0451, 1.0387, 1.0434, 1.0504, 1.0398, 1.0471, 1.0409, 1.0463, 1.0367,
  1.0466, 1.0443, 1.0492, 1.0371, 1.0478, 1.0427, 1.0505, 1.0410, 1.0503, 1.0433, 1.0472, 1.0364, 1.0489, 1.0448, 1.0399, 1.0511, 1.0422, 1.0460, 1.0377, 1.0484, 1.0436, 1.0499, 1.0415, 1.0527, 1.0393,
  1.0411, 1.0469, 1.0435, 1.0514, 1.0384, 1.0489, 1.0444, 1.0522, 1.0402, 1.0481, 1.0417, 1.0464, 1.0534, 1.0428, 1.0501, 1.0439, 1.0493, 1.0397, 1.0456, 1.0393, 1.0477, 1.0450, 1.0503, 1.0424, 1.0540,
  1.0515, 1.0420, 1.0513, 1.0443, 1.0482, 1.0374, 1.0499, 1.0458, 1.0409, 1.0521, 1.0432, 1.0470, 1.0387, 1.0494, 1.0446, 1.0509, 1.0425, 1.0537, 1.0403, 1.0476, 1.0453, 1.0502, 1.0381, 1.0488, 1.0437,
  1.0517, 1.0397, 1.0476, 1.0412, 1.0459, 1.0529, 1.0423, 1.0496, 1.0434, 1.0488, 1.0392, 1.0451, 1.0388, 1.0472, 1.0445, 1.0498, 1.0419, 1.0535, 1.0406, 1.0464, 1.0430, 1.0509, 1.0379, 1.0484, 1.0439,
  1.0409, 1.0521, 1.0432, 1.0470, 1.0387, 1.0494, 1.0446, 1.0509, 1.0425, 1.0537, 1.0403, 1.0476, 1.0453, 1.0502, 1.0381, 1.0488, 1.0437, 1.0515, 1.0420, 1.0513, 1.0443, 1.0482, 1.0374, 1.0499, 1.0458,
  1.0440, 1.0493, 1.0414, 1.0530, 1.0401, 1.0459, 1.0425, 1.0504, 1.0374, 1.0479, 1.0434, 1.0512, 1.0392, 1.0471, 1.0407, 1.0454, 1.0524, 1.0418, 1.0491, 1.0429, 1.0483, 1.0387, 1.0446, 1.0383, 1.0467,
  1.0400, 1.0512, 1.0378, 1.0451, 1.0428, 1.0477, 1.0356, 1.0463, 1.0412, 1.0490, 1.0395, 1.0488, 1.0418, 1.0457, 1.0349, 1.0474, 1.0433, 1.0384, 1.0496, 1.0407, 1.0445, 1.0362, 1.0469, 1.0421, 1.0484,
  1.0398, 1.0471, 1.0409, 1.0463, 1.0367, 1.0426, 1.0363, 1.0447, 1.0420, 1.0473, 1.0394, 1.0510, 1.0381, 1.0439, 1.0405, 1.0484, 1.0354, 1.0459, 1.0414, 1.0492, 1.0372, 1.0451, 1.0387, 1.0434, 1.0504,
  1.0339, 1.0464, 1.0423, 1.0374, 1.0486, 1.0397, 1.0435, 1.0352, 1.0459, 1.0411, 1.0474, 1.0390, 1.0502, 1.0368, 1.0441, 1.0418, 1.0467, 1.0346, 1.0453, 1.0402, 1.0480, 1.0385, 1.0478, 1.0408, 1.0447,
  1.0434, 1.0389, 1.0467, 1.0347, 1.0426, 1.0362, 1.0409, 1.0479, 1.0373, 1.0446, 1.0384, 1.0438, 1.0342, 1.0401, 1.0338, 1.0422, 1.0395, 1.0448, 1.0369, 1.0485
];

// Axis tick positions
const xTicks = [0, 500, 1000, 1500, 2000, 2500, 3000, 3500, 4000];
const leftTicks = [-0.05, -0.025, 0, 0.025, 0.05, 0.075, 0.1, 0.125];
const rightTicks = [1.02, 1.04, 1.06, 1.08, 1.1, 1.12, 1.14];

const SERIES_PEAK = 'Peak  position correction';
const SERIES_FWHM = 'FWHM';

const toPairs = (values, t0, dt) => values.map((v, i) => [t0 + i * dt, v]);
const peakData = toPairs(peakCorrection, PEAK_T0, PEAK_DT);
const fwhmData = []
  .concat(toPairs(fwhmA, FWHM_A_T0, FWHM_DT))
  .concat(toPairs(fwhmB, FWHM_B_T0, FWHM_DT))
  .concat(toPairs(fwhmC, FWHM_C_T0, FWHM_DT))
  .concat(toPairs(fwhmD, FWHM_D_T0, FWHM_DT))
  .sort((a, b) => a[0] - b[0]);

const TICK_FONT = 'DejaVu Sans';
const tickLine = { color: '#000000', width: 1.5 };
const tickLabel = { fontFamily: TICK_FONT, fontSize: 30, color: '#000000' };

const chart = echarts.init(document.getElementById('chart'), null, { renderer: 'canvas', width: 2493, height: 1404 });

chart.setOption({
  animation: false,
  backgroundColor: '#ffffff',
  grid: {
    left: 347, top: 180, width: 1928, height: 1078,
    show: true, borderColor: '#000000', borderWidth: 1.5, backgroundColor: 'rgba(0,0,0,0)'
  },
  xAxis: {
    type: 'value', min: -192, max: 4078,
    axisLine: { show: false, onZero: false },
    axisTick: { show: true, customValues: xTicks, length: 7, lineStyle: tickLine },
    axisLabel: Object.assign({ customValues: xTicks, margin: 18, formatter: v => String(v) }, tickLabel),
    splitLine: { show: false }
  },
  yAxis: [
    {
      type: 'value', position: 'left', min: -0.0605, max: 0.1356,
      axisLine: { show: false, onZero: false },
      axisTick: { show: true, customValues: leftTicks, length: 7, lineStyle: tickLine },
      axisLabel: Object.assign({
        customValues: leftTicks, margin: 19,
        formatter: v => v.toFixed(3).replace('-', '\u2212')
      }, tickLabel),
      splitLine: { show: false }
    },
    {
      type: 'value', position: 'right', min: 1.01146, max: 1.1425,
      axisLine: { show: false, onZero: false },
      axisTick: { show: true, customValues: rightTicks, length: 7, lineStyle: tickLine },
      axisLabel: Object.assign({
        customValues: rightTicks, margin: 14,
        formatter: v => v.toFixed(2)
      }, tickLabel),
      splitLine: { show: false }
    }
  ],
  legend: {
    orient: 'vertical', left: 1744, top: 199,
    itemWidth: 67, itemHeight: 9, itemGap: 21,
    padding: [10, 16, 14, 11],
    backgroundColor: 'rgba(255,255,255,0.8)',
    borderColor: '#cccccc', borderWidth: 1.5, borderRadius: 6,
    textStyle: { fontFamily: TICK_FONT, fontSize: 32, color: '#000000', padding: [0, 0, 0, 19] },
    data: [
      { name: SERIES_PEAK, icon: 'path://M0,0 L67,0 L67,3 L0,3 Z' },
      { name: SERIES_FWHM, icon: 'circle' }
    ]
  },
  series: [
    {
      name: SERIES_PEAK, type: 'line', data: peakData,
      showSymbol: false, symbol: 'none', progressive: 0,
      lineStyle: { color: '#1f77b4', width: 2.8 },
      itemStyle: { color: '#1f77b4' }
    },
    {
      name: SERIES_FWHM, type: 'scatter', yAxisIndex: 1, data: fwhmData,
      symbol: 'circle', symbolSize: 9, progressive: 0,
      itemStyle: { color: '#ffa500', opacity: 1 }
    }
  ],
  graphic: [
    { type: 'rect', shape: { x: 0, y: 0, width: 2493, height: 13 }, style: { fill: '#000000' } },
    { type: 'rect', shape: { x: 0, y: 0, width: 35, height: 1404 }, style: { fill: '#000000' } },
    {
      type: 'text', x: 183, y: 721, rotation: Math.PI / 2,
      style: { text: 'Peak  position correction in MHz', font: '32px "DejaVu Sans"', fill: '#000000', textAlign: 'center', textVerticalAlign: 'middle' }
    },
    {
      type: 'text', x: 2380, y: 720, rotation: Math.PI / 2,
      style: { text: 'FWHM in Mhz', font: '32px "DejaVu Sans"', fill: '#000000', textAlign: 'center', textVerticalAlign: 'middle' }
    },
    {
      type: 'text', x: 1320, y: 1347,
      style: { text: 'time [second/2]', font: '49px "Liberation Sans"', fill: '#000000', textAlign: 'center', textVerticalAlign: 'middle' }
    }
  ]
});
</script>
</body>
</html>
